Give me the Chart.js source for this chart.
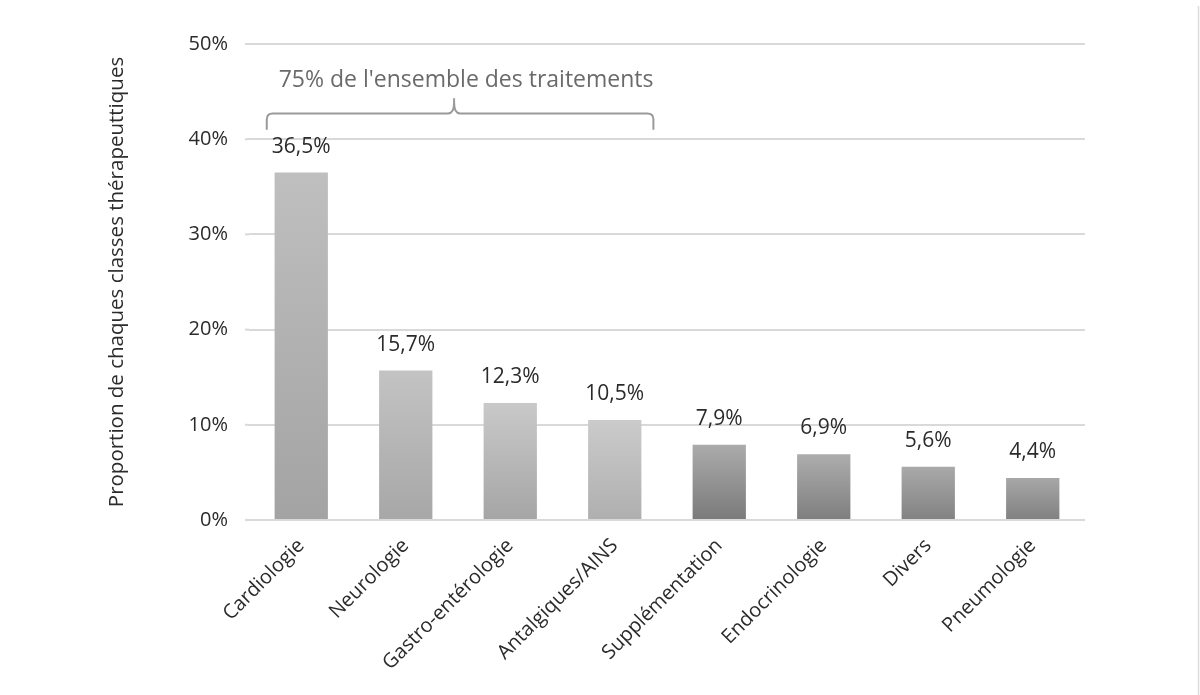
<!DOCTYPE html>
<html>
<head>
<meta charset="utf-8">
<script src="https://cdn.jsdelivr.net/npm/chart.js@4"></script>
<style>
  html, body { margin: 0; padding: 0; background: #fff; }
  #wrap { width: 1200px; height: 695px; position: relative; }
</style>
</head>
<body>
<div id="wrap"><canvas id="myBarChart" width="1200" height="695"></canvas></div>
<script>
// data
const categories = ['Cardiologie', 'Neurologie', 'Gastro-entérologie', 'Antalgiques/AINS',
                    'Supplémentation', 'Endocrinologie', 'Divers', 'Pneumologie'];
const values = [36.5, 15.7, 12.3, 10.5, 7.9, 6.9, 5.6, 4.4];
const yTicks = [0, 10, 20, 30, 40, 50];
const bracketText = "75% de l'ensemble des traitements";
const bracketFrom = 0, bracketTo = 3;

// bar shading, top -> bottom
const topColors = ['#bfbfbf', '#c3c3c3', '#c9c9c9', '#cbcbcb', '#ababab', '#adadad', '#a9a9a9', '#a7a7a7'];
const bottomColors = ['#a3a3a3', '#a7a7a7', '#a5a5a5', '#afafaf', '#7a7a7a', '#7e7e7e', '#828282', '#808080'];

const fmt = v => v.toFixed(1).replace('.', ',') + '%';
const FONT = "'Open Sans', 'Liberation Sans', sans-serif";

// value labels on bars + the curly bracket annotation
const labelPlugin = {
    id: 'extras',
    beforeDatasetsDraw(chart) {
        // gridlines start a few px left of the category axis
        const y = chart.scales.y, a = chart.chartArea;
        const ctx = chart.ctx;
        ctx.save();
        ctx.strokeStyle = '#d9d9d9';
        ctx.lineWidth = 2;
        yTicks.forEach(v => {
            const py = y.getPixelForValue(v);
            ctx.beginPath();
            ctx.moveTo(a.left - 4, py);
            ctx.lineTo(a.left, py);
            ctx.stroke();
        });
        ctx.restore();
    },
    afterDatasetsDraw(chart) {
        const ctx = chart.ctx;
        const x = chart.scales.x, y = chart.scales.y;
        const meta = chart.getDatasetMeta(0);
        ctx.save();
        ctx.fillStyle = '#2b2b2b';
        ctx.font = '21px ' + FONT;
        ctx.textAlign = 'center';
        ctx.textBaseline = 'middle';
        meta.data.forEach((bar, i) => {
            ctx.fillText(fmt(values[i]), bar.x, bar.y - 26);
        });

        // bracket
        const step = x.getPixelForValue(1) - x.getPixelForValue(0);
        const left = x.getPixelForValue(bracketFrom) - 0.33 * step;
        const right = x.getPixelForValue(bracketTo) + 0.37 * step;
        const mid = (left + right) / 2 - 6;
        const yLine = y.getPixelForValue(42.7);
        const yEnd = y.getPixelForValue(41.0);
        const yTip = y.getPixelForValue(44.3);
        const r = 6;
        ctx.strokeStyle = '#9a9a9a';
        ctx.lineWidth = 2;
        ctx.beginPath();
        ctx.moveTo(left, yEnd);
        ctx.lineTo(left, yLine + r);
        ctx.quadraticCurveTo(left, yLine, left + r, yLine);
        ctx.lineTo(mid - r, yLine);
        ctx.quadraticCurveTo(mid, yLine, mid, yTip + 4);
        ctx.lineTo(mid, yTip);
        ctx.moveTo(mid, yTip + 4);
        ctx.quadraticCurveTo(mid, yLine, mid + r, yLine);
        ctx.lineTo(right - r, yLine);
        ctx.quadraticCurveTo(right, yLine, right, yLine + r);
        ctx.lineTo(right, yEnd);
        ctx.stroke();

        ctx.fillStyle = '#6a6a6a';
        ctx.font = '23px ' + FONT;
        ctx.fillText(bracketText, mid + 12, y.getPixelForValue(46.2));

        // faint frame line at the right edge
        ctx.strokeStyle = '#dcdcdc';
        ctx.lineWidth = 1.5;
        ctx.beginPath();
        ctx.moveTo(1198.5, 6);
        ctx.lineTo(1198.5, 695);
        ctx.stroke();
        ctx.restore();
    }
};

function barGradient(context) {
    const chart = context.chart;
    if (!chart.chartArea) return topColors[context.dataIndex];
    const y = chart.scales.y;
    const top = y.getPixelForValue(values[context.dataIndex]);
    const bottom = y.getPixelForValue(0);
    const g = chart.ctx.createLinearGradient(0, top, 0, bottom);
    g.addColorStop(0, topColors[context.dataIndex]);
    g.addColorStop(1, bottomColors[context.dataIndex]);
    return g;
}

const ctx = document.getElementById('myBarChart').getContext('2d');
new Chart(ctx, {
    type: 'bar',
    data: {
        labels: categories,
        datasets: [{
            label: 'Proportion',
            data: values,
            backgroundColor: barGradient,
            borderWidth: 0,
            categoryPercentage: 1.0,
            barPercentage: 0.51
        }]
    },
    options: {
        responsive: false,
        animation: false,
        devicePixelRatio: 1,
        layout: { padding: { left: 105, right: 115, top: 44, bottom: 0 } },
        plugins: {
            legend: { display: false },
            tooltip: { enabled: false }
        },
        scales: {
            x: {
                grid: { display: false, drawTicks: false },
                border: { display: false },
                ticks: {
                    minRotation: 45, maxRotation: 45,
                    color: '#2b2b2b',
                    padding: 14,
                    font: { family: FONT, size: 20 }
                },
                afterFit(scale) { scale.height = 175; }
            },
            y: {
                min: 0, max: 50,
                afterBuildTicks(scale) { scale.ticks = yTicks.map(v => ({ value: v })); },
                grid: { color: '#d9d9d9', lineWidth: 2, drawTicks: false },
                border: { display: false },
                ticks: {
                    color: '#2b2b2b',
                    padding: 21,
                    font: { family: FONT, size: 20 },
                    callback: v => v + '%'
                },
                title: {
                    display: true,
                    text: 'Proportion de chaques classes thérapeuttiques',
                    color: '#2b2b2b',
                    font: { family: FONT, size: 20.5 },
                    padding: 0
                },
                afterFit(scale) { scale.width = 249 - 105; }
            }
        }
    },
    plugins: [labelPlugin]
});
</script>
</body>
</html>
